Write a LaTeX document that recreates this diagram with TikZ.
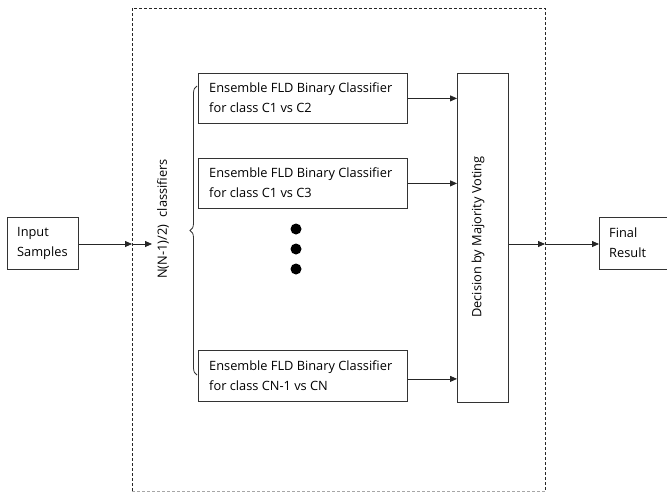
\documentclass[tikz,border=0pt]{standalone}
\usepackage{fontspec}
\setmainfont{Open Sans}
\usetikzlibrary{arrows.meta,decorations.pathreplacing,positioning}
\begin{document}
\begin{tikzpicture}[x=1pt,y=-1pt,
  box/.style={draw=black!80,line width=0.8pt,inner sep=0pt,anchor=north west},
  txt/.style={anchor=west,align=left,inner sep=0pt,font=\fontsize{12.8}{20}\selectfont},
  rtxt/.style={rotate=90,inner sep=0pt,font=\fontsize{12.8}{20}\selectfont},
  conn/.style={draw=black!85,line width=0.8pt,-{Triangle[length=7pt,width=6pt]}},
  frame/.style={draw=black!85,line width=0.8pt,dash pattern=on 3pt off 2pt},
  dotc/.style={circle,fill=black,inner sep=0pt,minimum size=11pt}]
\useasboundingbox (0,0) rectangle (667,493);
\fill[white] (0,0) rectangle (667,493);
% dashed frame
\draw[frame] (132,491) -- (132,8) -- (545,8) -- (545,491);
\draw[frame,draw=black!35] (132,491) -- (545,491);
% input
\node[box,minimum width=71pt,minimum height=52pt] (in) at (7,217) {};
\node[txt] (intext) at (17,243) {Input\\Samples};
% classifier boxes
\node[box,minimum width=209pt,minimum height=50pt] (c1) at (198,73) {};
\node[txt] (t1) at (209,98) {Ensemble FLD Binary Classifier\\for class C1 vs C2};
\node[box,minimum width=209pt,minimum height=50pt] (c2) at (198,158) {};
\node[txt] (t2) at (209,183) {Ensemble FLD Binary Classifier\\for class C1 vs C3};
\node[box,minimum width=209pt,minimum height=51pt] (c3) at (198,350) {};
\node[txt] (t3) at (209,376) {Ensemble FLD Binary Classifier\\for class CN-1 vs CN};
% voting
\node[box,minimum width=51pt,minimum height=329pt] (vote) at (457,73) {};
\node[rtxt] (vt) at (478,237) {Decision by Majority Voting};
% final
\node[box,minimum width=70pt,minimum height=52pt] (fin) at (599,217) {};
\node[txt] (fintext) at (609,243) {Final\\Result};
% dots
\node[dotc] (d1) at (296,229) {};
\node[dotc] (d2) at (296,249) {};
\node[dotc] (d3) at (296,269) {};
% classifiers label and brace
\node[rtxt] (nl) at (163,219) {N(N-1)/2)\,\, classifiers};
\coordinate (bb) at (197,375);
\coordinate (bt) at (197,86);
\draw[draw=black!80,line width=0.8pt,decorate,decoration={brace,amplitude=7pt}] (bb) -- (bt);
% connectors
\coordinate (dl1) at (132,244);
\coordinate (ce) at (152,244);
\coordinate (dl2) at (545,244);
\draw[conn] (in.east |- dl1) -- (dl1);
\draw[conn] (dl1) -- (ce);
\draw[conn] (c1.east) -- (c1.east -| vote.west);
\draw[conn] (c2.east) -- (c2.east -| vote.west);
\draw[conn] ([yshift=-3pt]c3.east) -- ([yshift=-3pt]c3.east -| vote.west);
\draw[conn] (vote.east |- dl2) -- (dl2);
\draw[conn] (dl2) -- (dl2 -| fin.west);
\end{tikzpicture}
\end{document}
